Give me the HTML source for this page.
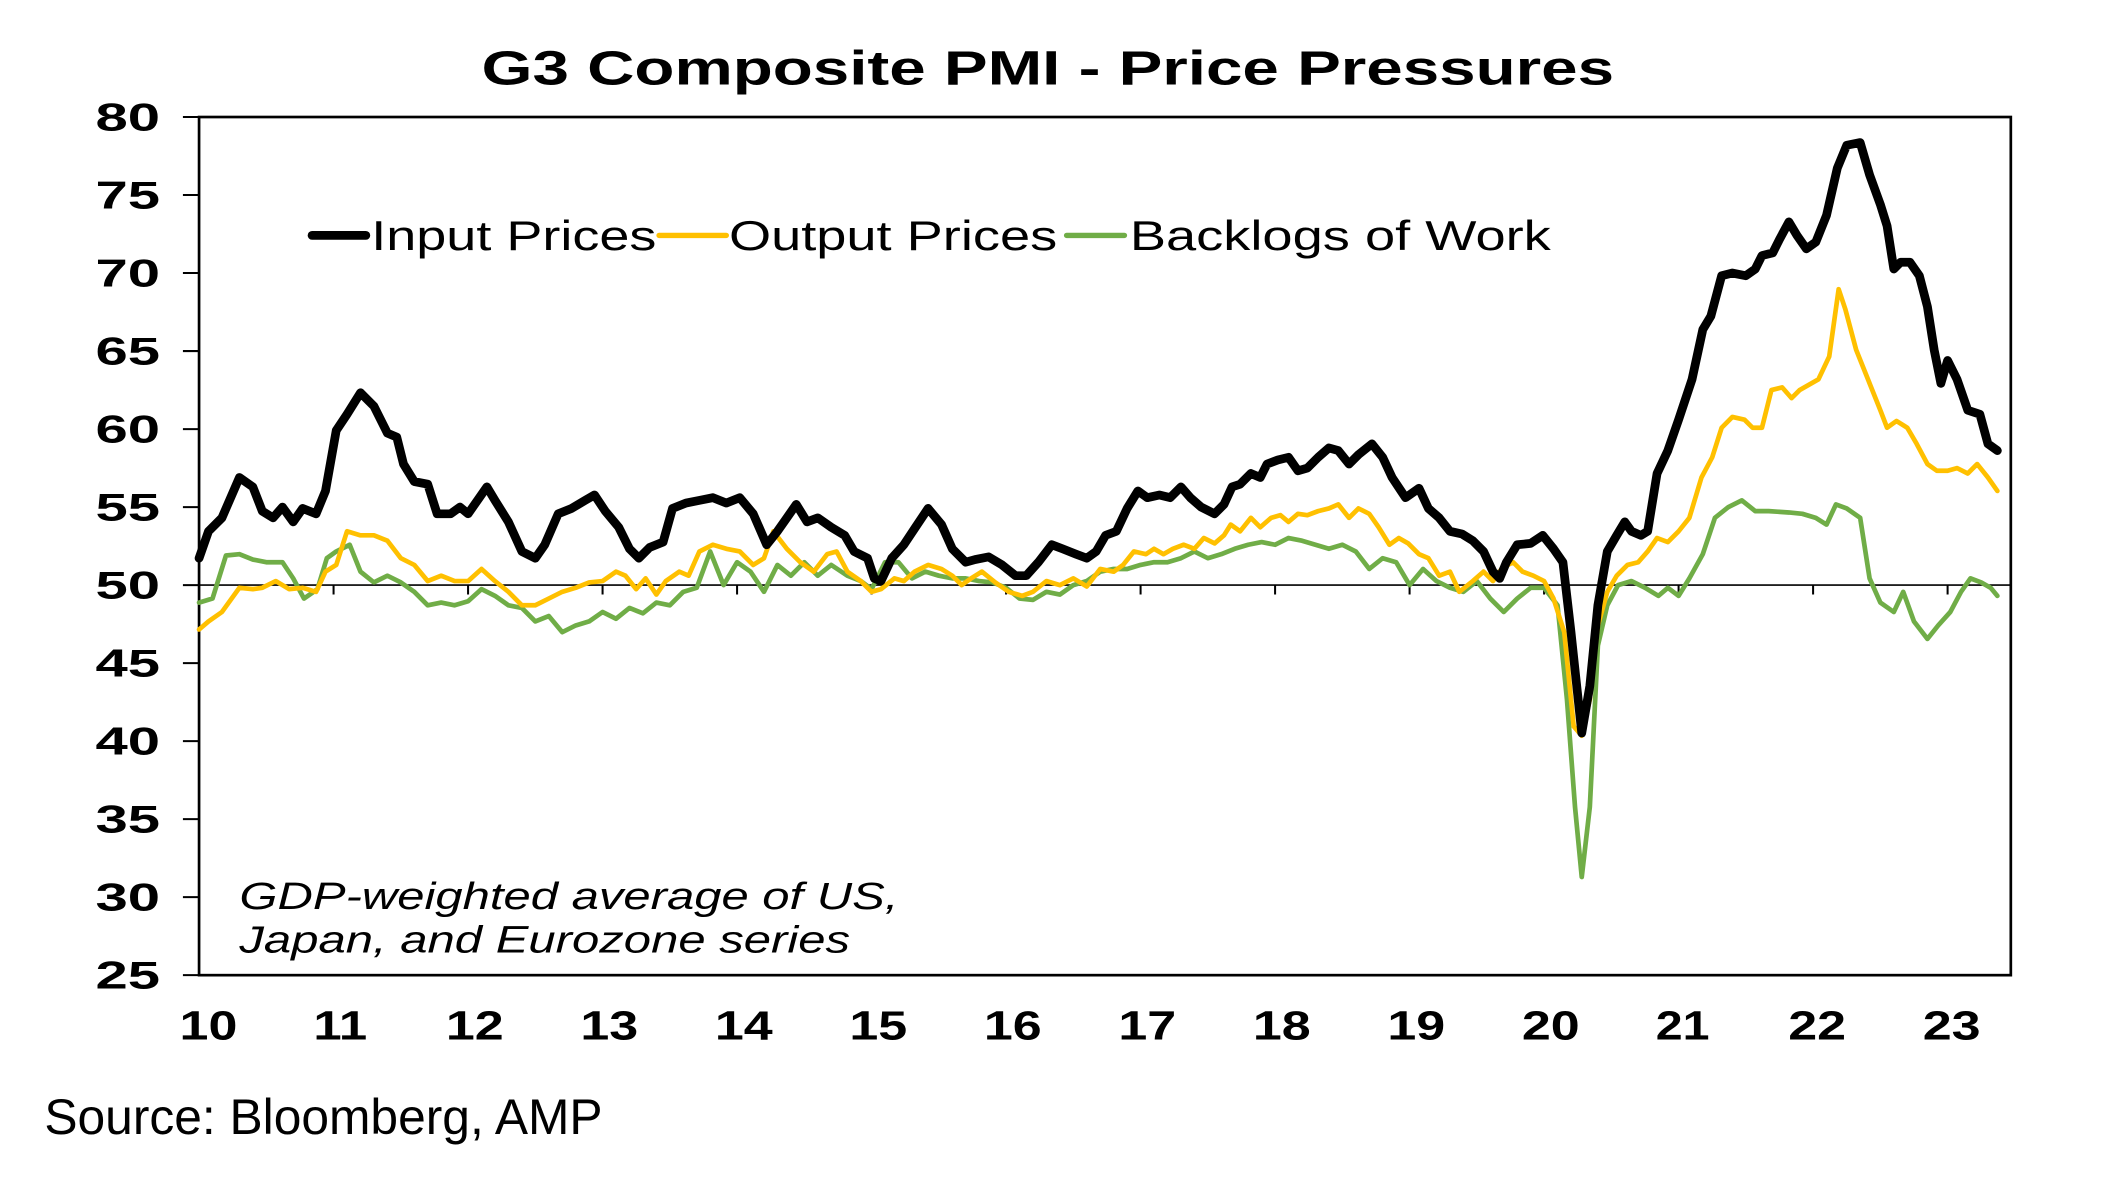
<!DOCTYPE html>
<html><head><meta charset="utf-8"><style>
html,body{margin:0;padding:0;background:#fff;}
svg{display:block;}
</style></head><body>
<svg width="2109" height="1178" viewBox="0 0 1568 875.8" preserveAspectRatio="none" xmlns="http://www.w3.org/2000/svg">
<rect width="1568" height="876" fill="#fff"/>
<text x="358" y="63" font-family="Liberation Sans, sans-serif" font-weight="bold" font-size="36" textLength="842" lengthAdjust="spacingAndGlyphs">G3 Composite PMI - Price Pressures</text>
<g font-family="Liberation Sans, sans-serif" font-weight="bold" font-size="29" text-anchor="end">
<text x="119" y="97" textLength="48" lengthAdjust="spacingAndGlyphs">80</text><text x="119" y="155" textLength="48" lengthAdjust="spacingAndGlyphs">75</text><text x="119" y="213" textLength="48" lengthAdjust="spacingAndGlyphs">70</text><text x="119" y="271" textLength="48" lengthAdjust="spacingAndGlyphs">65</text><text x="119" y="329" textLength="48" lengthAdjust="spacingAndGlyphs">60</text><text x="119" y="387" textLength="48" lengthAdjust="spacingAndGlyphs">55</text><text x="119" y="445" textLength="48" lengthAdjust="spacingAndGlyphs">50</text><text x="119" y="503" textLength="48" lengthAdjust="spacingAndGlyphs">45</text><text x="119" y="561" textLength="48" lengthAdjust="spacingAndGlyphs">40</text><text x="119" y="619" textLength="48" lengthAdjust="spacingAndGlyphs">35</text><text x="119" y="677" textLength="48" lengthAdjust="spacingAndGlyphs">30</text><text x="119" y="735" textLength="48" lengthAdjust="spacingAndGlyphs">25</text>
</g>
<g font-family="Liberation Sans, sans-serif" font-weight="bold" font-size="30" text-anchor="middle">
<text x="155" y="773" textLength="43" lengthAdjust="spacingAndGlyphs">10</text><text x="253" y="773" textLength="40" lengthAdjust="spacingAndGlyphs">11</text><text x="353" y="773" textLength="43" lengthAdjust="spacingAndGlyphs">12</text><text x="453" y="773" textLength="43" lengthAdjust="spacingAndGlyphs">13</text><text x="553" y="773" textLength="43" lengthAdjust="spacingAndGlyphs">14</text><text x="653" y="773" textLength="43" lengthAdjust="spacingAndGlyphs">15</text><text x="753" y="773" textLength="43" lengthAdjust="spacingAndGlyphs">16</text><text x="853" y="773" textLength="43" lengthAdjust="spacingAndGlyphs">17</text><text x="953" y="773" textLength="43" lengthAdjust="spacingAndGlyphs">18</text><text x="1053" y="773" textLength="43" lengthAdjust="spacingAndGlyphs">19</text><text x="1153" y="773" textLength="43" lengthAdjust="spacingAndGlyphs">20</text><text x="1251" y="773" textLength="40" lengthAdjust="spacingAndGlyphs">21</text><text x="1351" y="773" textLength="43" lengthAdjust="spacingAndGlyphs">22</text><text x="1451" y="773" textLength="43" lengthAdjust="spacingAndGlyphs">23</text>
</g>
<g stroke="#000" stroke-width="1.5">
<line x1="136" y1="87" x2="148" y2="87"/><line x1="136" y1="145" x2="148" y2="145"/><line x1="136" y1="203" x2="148" y2="203"/><line x1="136" y1="261" x2="148" y2="261"/><line x1="136" y1="319" x2="148" y2="319"/><line x1="136" y1="377" x2="148" y2="377"/><line x1="136" y1="435" x2="148" y2="435"/><line x1="136" y1="493" x2="148" y2="493"/><line x1="136" y1="551" x2="148" y2="551"/><line x1="136" y1="609" x2="148" y2="609"/><line x1="136" y1="667" x2="148" y2="667"/><line x1="136" y1="725" x2="148" y2="725"/>
<line x1="148" y1="435" x2="1495" y2="435" stroke-width="1.2"/>
<path d="M248 435v7M348 435v7M448 435v7M548 435v7M648 435v7M748 435v7M848 435v7M948 435v7M1048 435v7M1148 435v7M1248 435v7M1348 435v7M1448 435v7" />
</g>
<rect x="148" y="87" width="1347" height="638" fill="none" stroke="#000" stroke-width="2"/>
<g font-family="Liberation Sans, sans-serif" font-style="italic" font-size="28">
<text x="178" y="676" textLength="490" lengthAdjust="spacingAndGlyphs">GDP-weighted average of US,</text>
<text x="178" y="708" textLength="454" lengthAdjust="spacingAndGlyphs">Japan, and Eurozone series</text>
</g>
<g fill="none" stroke-linejoin="round" stroke-linecap="round">
<polyline stroke="#70ad47" stroke-width="3.5" points="148,448 158,445 168,413 178,412 188,416 198,418 210,418 218,430 226,445 236,438 243,415 250,410 260,405 268,425 278,433 288,428 298,433 308,440 318,450 328,448 338,450 348,447 358,438 368,443 378,450 388,452 398,462 408,458 418,470 428,465 438,462 448,455 458,460 468,452 478,456 488,448 498,450 508,440 518,437 528,410 538,435 548,418 558,425 568,440 578,420 588,428 598,418 608,428 618,420 630,428 640,432 648,438 658,418 668,418 678,430 688,425 698,428 708,430 718,430 728,432 738,433 748,437 758,445 768,446 778,440 788,442 798,435 808,432 818,425 828,423 838,423 848,420 858,418 868,418 878,415 888,410 898,415 908,412 918,408 928,405 938,403 948,405 958,400 968,402 978,405 988,408 998,405 1008,410 1018,423 1028,415 1038,418 1048,435 1058,423 1068,432 1078,437 1088,440 1098,432 1108,445 1118,455 1128,445 1138,437 1148,437 1158,450 1165,520 1171,600 1176,652 1182,600 1188,480 1195,450 1203,435 1213,432 1223,437 1233,443 1240,437 1248,443 1256,430 1266,412 1275,385 1285,377 1295,372 1305,380 1315,380 1330,381 1340,382 1350,385 1358,390 1365,375 1373,378 1383,385 1390,430 1398,448 1408,455 1415,440 1423,462 1433,475 1441,465 1450,455 1458,440 1465,430 1473,433 1480,437 1485,443"/>
<polyline stroke="#ffc000" stroke-width="3.5" points="148,468 155,462 165,455 178,437 188,438 195,437 205,432 215,438 225,437 235,440 242,425 250,420 258,395 268,398 278,398 288,402 298,415 308,420 318,432 328,428 338,432 348,432 358,423 368,432 378,440 388,450 398,450 408,445 418,440 428,437 438,433 448,432 458,425 465,428 473,438 480,430 488,442 495,432 505,425 512,428 520,410 530,405 540,408 550,410 560,420 568,415 575,395 585,408 595,418 605,425 615,412 622,410 630,425 640,432 648,440 655,438 665,430 672,432 680,425 690,420 700,423 708,428 715,435 722,430 730,425 740,433 750,440 760,443 768,440 778,432 788,435 798,430 808,436 818,423 828,425 835,420 843,410 852,412 858,408 865,412 872,408 880,405 888,408 895,400 903,404 910,398 915,390 922,395 930,385 937,392 945,385 952,383 958,388 965,382 972,383 980,380 988,378 995,375 1003,385 1010,378 1018,382 1025,392 1033,405 1040,400 1047,404 1055,412 1062,415 1070,428 1078,425 1085,440 1095,432 1103,425 1110,432 1117,422 1125,418 1132,425 1140,428 1148,432 1155,445 1163,470 1170,540 1176,547 1182,520 1188,465 1195,440 1202,428 1210,420 1218,418 1225,410 1232,400 1240,403 1248,395 1256,385 1265,355 1273,340 1280,318 1288,310 1297,312 1303,318 1310,318 1317,290 1325,288 1332,296 1338,290 1345,286 1352,282 1360,265 1367,215 1372,230 1380,260 1390,285 1398,305 1403,318 1410,313 1418,318 1425,330 1433,345 1440,350 1448,350 1455,348 1463,352 1470,345 1478,355 1485,365"/>
<polyline stroke="#000" stroke-width="6.5" points="148,415 155,395 165,385 178,355 188,362 195,380 203,385 210,377 218,388 225,378 235,382 242,365 250,320 258,308 268,292 278,302 288,322 295,325 300,345 308,358 318,360 325,382 335,382 342,377 348,382 355,372 362,362 368,372 378,388 388,410 398,415 405,405 415,382 425,378 435,372 442,368 450,380 460,392 468,408 475,415 483,407 493,403 500,378 510,374 520,372 530,370 540,374 550,370 560,382 570,405 578,395 585,385 592,375 600,388 608,385 618,392 628,398 635,410 645,415 650,430 655,432 663,415 672,405 680,393 690,378 700,390 708,408 718,418 725,416 735,414 745,420 755,428 763,428 772,418 782,405 790,408 800,412 808,415 815,410 822,398 830,395 838,378 846,365 853,370 862,368 870,370 878,362 885,370 893,377 903,382 910,375 916,362 922,360 930,352 937,355 942,345 950,342 958,340 965,350 972,348 980,340 988,333 995,335 1003,345 1010,338 1020,330 1028,340 1035,355 1045,370 1055,363 1062,378 1070,385 1078,395 1087,397 1095,402 1103,410 1110,425 1115,430 1120,418 1128,405 1138,404 1147,398 1155,408 1162,418 1168,470 1176,545 1182,510 1188,450 1195,410 1202,398 1208,388 1213,395 1220,398 1225,395 1232,352 1240,335 1248,312 1258,282 1266,245 1272,235 1280,205 1288,203 1298,205 1305,200 1310,190 1318,188 1323,178 1330,165 1336,175 1343,185 1350,180 1358,160 1366,125 1373,108 1383,106 1390,130 1398,152 1403,168 1408,200 1413,195 1420,195 1427,205 1433,228 1438,260 1443,285 1448,268 1455,282 1463,305 1472,308 1478,330 1485,335"/>
<line x1="232" y1="175" x2="272" y2="175" stroke="#000" stroke-width="6.5"/>
<line x1="490" y1="175" x2="540" y2="175" stroke="#ffc000" stroke-width="4"/>
<line x1="793" y1="175" x2="836" y2="175" stroke="#70ad47" stroke-width="4"/>
</g>
<g font-family="Liberation Sans, sans-serif" font-size="31">
<text x="276" y="186" textLength="212" lengthAdjust="spacingAndGlyphs">Input Prices</text>
<text x="542" y="186" textLength="244" lengthAdjust="spacingAndGlyphs">Output Prices</text>
<text x="840" y="186" textLength="313" lengthAdjust="spacingAndGlyphs">Backlogs of Work</text>
</g>
<text x="33" y="843" font-family="Liberation Sans, sans-serif" font-size="37" textLength="415" lengthAdjust="spacingAndGlyphs">Source: Bloomberg, AMP</text>
</svg>
</body></html>
